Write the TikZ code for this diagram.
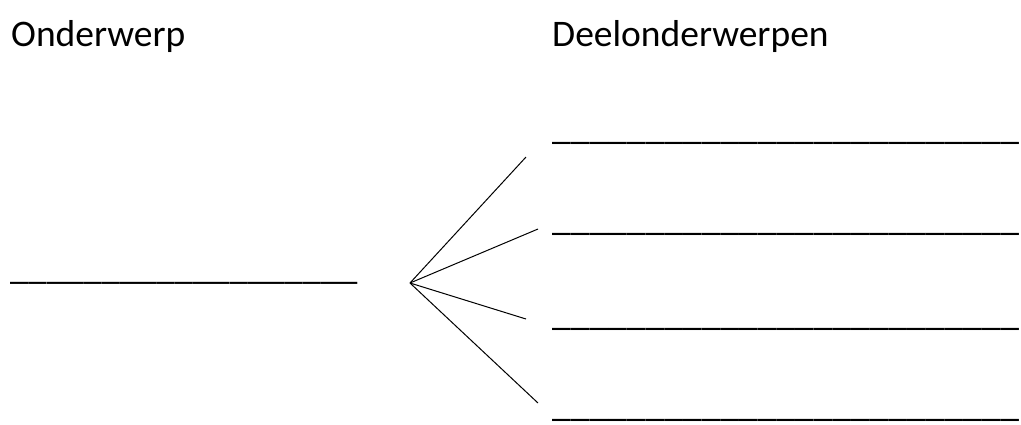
\documentclass[tikz,border=0pt]{standalone}
\usepackage{fontspec}
\setmainfont{Carlito}
\usetikzlibrary{positioning}

\begin{document}
\begin{tikzpicture}[
    x=1pt, y=-1pt,
    label/.style={anchor=base west, inner sep=0pt, font=\fontsize{37.5}{42}\selectfont},
    blank/.style={anchor=base west, inner sep=0pt, font=\fontsize{37.5}{42}\selectfont},
    branch/.style={line width=1pt}
]
\useasboundingbox (0,0) rectangle (1021,424);

% Headings
\node[label] (topic) at (11,46) {Onderwerp};
\node[label] (subtopics) at (552,46) {Deelonderwerpen};

% Blanks
\node[blank, font=\fontsize{36.7}{42}\selectfont] (main) at (10,279) {\_\_\_\_\_\_\_\_\_\_\_\_\_\_\_\_\_\_\_};
\node[blank] (sub1) at (552,139.5) {\_\_\_\_\_\_\_\_\_\_\_\_\_\_\_\_\_\_\_\_\_\_\_\_\_};
\node[blank] (sub2) at (552,230.5) {\_\_\_\_\_\_\_\_\_\_\_\_\_\_\_\_\_\_\_\_\_\_\_\_\_};
\node[blank] (sub3) at (552,325.5) {\_\_\_\_\_\_\_\_\_\_\_\_\_\_\_\_\_\_\_\_\_\_\_\_\_};
\node[blank] (sub4) at (552,416) {\_\_\_\_\_\_\_\_\_\_\_\_\_\_\_\_\_\_\_\_\_\_\_\_\_};

% Fan
\coordinate (hub) at (410,283);
\coordinate (end1) at (526,157);
\coordinate (end2) at (538,229);
\coordinate (end3) at (526,319);
\coordinate (end4) at (538,403);
\foreach \i in {1,...,4}
    \draw[branch] (hub) -- (end\i);

\end{tikzpicture}
\end{document}
